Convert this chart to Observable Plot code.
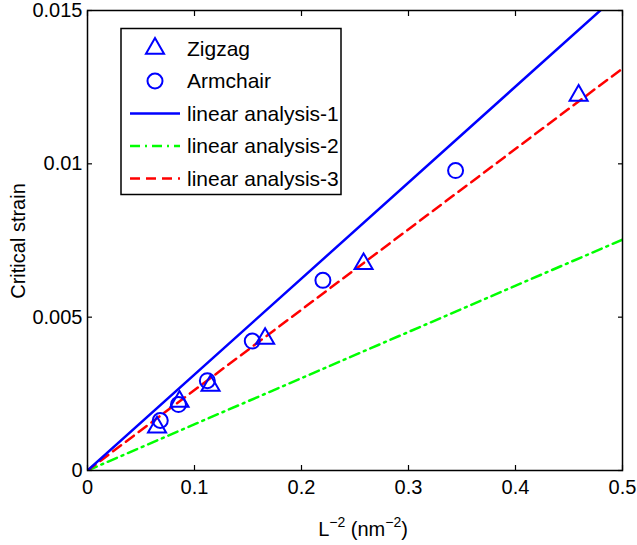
<!DOCTYPE html>
<html><head><meta charset="utf-8">
<script src="https://cdn.jsdelivr.net/npm/d3@7"></script>
<script src="https://cdn.jsdelivr.net/npm/@observablehq/plot@0.6"></script>
<style>body{margin:0;background:#fff;}</style>
</head><body><div id="chart"></div>
<script>
const zigzagX = [0.065, 0.086, 0.115, 0.166, 0.258, 0.459];
const zigzagY = [0.00141, 0.00225, 0.00277, 0.0043, 0.00674, 0.01223];
const armchairX = [0.068, 0.085, 0.112, 0.154, 0.220, 0.344];
const armchairY = [0.00163, 0.00215, 0.00293, 0.00422, 0.0062, 0.00978];
const lineX = [0, 0.5];
const linear1Y = [0, 0.01565];
const linear2Y = [0, 0.00753];
const linear3Y = [0, 0.01311];
const xTicks = [0, 0.1, 0.2, 0.3, 0.4, 0.5];
const yTicks = [0, 0.005, 0.01, 0.015];
const xTickLabels = ["0", "0.1", "0.2", "0.3", "0.4", "0.5"];
const yTickLabels = ["0", "0.005", "0.01", "0.015"];
const legendLabels = ["Zigzag", "Armchair", "linear analysis-1", "linear analysis-2", "linear analysis-3"];
const xLabelParts = ["L", "\u22122", " (nm", "\u22122", ")"];
const yLabel = "Critical strain";

const BLUE = "#0000ff", GREEN = "#00ff00", RED = "#ff0000";
const FONT = "Liberation Sans, Arial, Helvetica, sans-serif";
const toPts = (xs, ys) => xs.map((x, i) => ({x, y: ys[i]}));
const TRI_R = 6.7, CIRC_R = 7.5;

const lineStyles = [
  {stroke: BLUE, dash: null},
  {stroke: GREEN, dash: "10,5,2,5"},
  {stroke: RED, dash: "10,6"}
];

const chart = Plot.plot({
  width: 637, height: 545,
  marginLeft: 87, marginRight: 15, marginTop: 10, marginBottom: 75,
  style: {fontFamily: FONT, fontSize: "20px", color: "black", background: "white"},
  x: {domain: [0, 0.5]},
  y: {domain: [0, 0.015]},
  marks: [
    Plot.line(toPts(lineX, linear2Y), {x: "x", y: "y", stroke: GREEN, strokeWidth: 2.5, strokeDasharray: "10,5,2,5", clip: true}),
    Plot.line(toPts(lineX, linear3Y), {x: "x", y: "y", stroke: RED, strokeWidth: 2.5, strokeDasharray: "10,6", clip: true}),
    Plot.line(toPts(lineX, linear1Y), {x: "x", y: "y", stroke: BLUE, strokeWidth: 2.5, clip: true}),
    Plot.dot(toPts(zigzagX, zigzagY), {x: "x", y: "y", symbol: "triangle", r: TRI_R, stroke: BLUE, strokeWidth: 2, fill: "none"}),
    Plot.dot(toPts(armchairX, armchairY), {x: "x", y: "y", symbol: "circle", r: CIRC_R, stroke: BLUE, strokeWidth: 2, fill: "none"}),
    Plot.frame({stroke: "black", strokeWidth: 1.5}),
    Plot.axisX({ticks: xTicks, tickFormat: d => xTickLabels[xTicks.indexOf(d)], tickSize: -5, tickPadding: 14, label: null, strokeWidth: 1.2}),
    Plot.axisX({anchor: "top", ticks: xTicks, tickFormat: () => "", tickSize: -5, label: null, strokeWidth: 1.2}),
    Plot.axisY({ticks: yTicks, tickFormat: d => yTickLabels[yTicks.indexOf(d)], tickSize: -5, tickPadding: 10, label: null, strokeWidth: 1.2}),
    Plot.axisY({anchor: "right", ticks: yTicks, tickFormat: () => "", tickSize: -5, label: null, strokeWidth: 1.2})
  ]
});

const svg = d3.select(chart);
// Legend
const lg = svg.append("g").attr("font-family", FONT).attr("font-size", 21).attr("text-anchor", "start");
lg.append("rect").attr("x", 121).attr("y", 28.5).attr("width", 220).attr("height", 166)
  .attr("fill", "white").attr("stroke", "black").attr("stroke-width", 1.5);
const rowY = i => 48.5 + i * 32.5;
legendLabels.forEach((t, i) => {
  const y = rowY(i);
  if (i === 0) {
    lg.append("path").attr("d", d3.symbol(d3.symbolTriangle, Math.PI * TRI_R * TRI_R)())
      .attr("transform", `translate(155,${y})`).attr("fill", "none").attr("stroke", BLUE).attr("stroke-width", 2);
  } else if (i === 1) {
    lg.append("circle").attr("cx", 155).attr("cy", y).attr("r", CIRC_R)
      .attr("fill", "none").attr("stroke", BLUE).attr("stroke-width", 2);
  } else {
    const s = lineStyles[i - 2];
    lg.append("line").attr("x1", 130).attr("x2", 180).attr("y1", y).attr("y2", y)
      .attr("stroke", s.stroke).attr("stroke-width", 2.5).attr("stroke-dasharray", s.dash);
  }
  lg.append("text").attr("x", 187).attr("y", y).attr("dy", "0.35em").text(t);
});
// Axis labels
const xl = svg.append("text").attr("x", 363).attr("y", 536).attr("text-anchor", "middle")
  .attr("font-family", FONT).attr("font-size", 20);
xLabelParts.forEach((p, i) => {
  const ts = xl.append("tspan").text(p);
  if (i % 2 === 1) ts.attr("font-size", 14).attr("dy", -9);
  else if (i > 0) ts.attr("dy", 9);
});
svg.append("text").attr("transform", "translate(25,241) rotate(-90)").attr("text-anchor", "middle")
  .attr("font-family", FONT).attr("font-size", 20).text(yLabel);

document.getElementById("chart").appendChild(chart);
</script>
</body></html>
